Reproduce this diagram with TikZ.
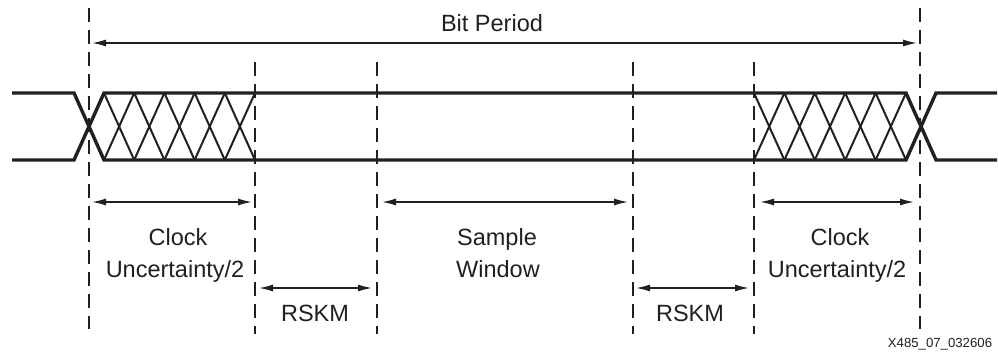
\documentclass[tikz,border=0pt]{standalone}
\usepackage{fontspec}
\setmainfont{Liberation Sans}
\usetikzlibrary{arrows.meta}
\definecolor{ink}{HTML}{231F20}
\tikzset{
  sig/.style={draw=ink, line width=3.4pt, line join=miter},
  hatch/.style={draw=ink, line width=2pt},
  guide/.style={draw=ink, line width=1.4pt, dash pattern=on 14pt off 8pt},
  dim/.style={draw=ink, line width=1.5pt, {Latex[length=14pt,width=7pt]}-{Latex[length=14pt,width=7pt]}},
  lbl/.style={text=ink, font=\fontsize{23.5}{28}\selectfont, anchor=base, inner sep=0pt},
  tag/.style={text=ink, font=\fontsize{13.2}{16}\selectfont, anchor=base, inner sep=0pt}
}
\begin{document}
\begin{tikzpicture}[x=1pt,y=-1pt]
\useasboundingbox (0,0) rectangle (998,356);
% signal
\def\yt{93}\def\yb{160}
\draw[sig] (12,\yt) -- (74,\yt) -- (104,\yb) -- (906,\yb) -- (936,\yt) -- (997,\yt);
\draw[sig] (12,\yb) -- (74,\yb) -- (104,\yt) -- (906,\yt) -- (936,\yb) -- (997,\yb);
% hatch left
\foreach \a in {0,...,4}{
  \pgfmathsetmacro{\xa}{104+30.2*\a}
  \pgfmathsetmacro{\xb}{104+30.2*(\a+1)}
  \draw[hatch] (\xa,\yt) -- (\xb,\yb);
  \draw[hatch] (\xa,\yb) -- (\xb,\yt);
}
% hatch right
\foreach \a in {0,...,4}{
  \pgfmathsetmacro{\xa}{754+30.4*\a}
  \pgfmathsetmacro{\xb}{754+30.4*(\a+1)}
  \draw[hatch] (\xa,\yt) -- (\xb,\yb);
  \draw[hatch] (\xa,\yb) -- (\xb,\yt);
}
% guide lines
\coordinate (g1t) at (89,8);   \coordinate (g1b) at (89,329);
\coordinate (g2t) at (255,62); \coordinate (g2b) at (255,334);
\coordinate (g3t) at (377,62); \coordinate (g3b) at (377,334);
\coordinate (g4t) at (633,62); \coordinate (g4b) at (633,334);
\coordinate (g5t) at (754,62); \coordinate (g5b) at (754,334);
\coordinate (g6t) at (920,8);  \coordinate (g6b) at (920,329);
\foreach \g in {1,...,6}{\draw[guide] (g\g t) -- (g\g b);}
% dimension arrows
\coordinate (bpL) at (92,43);  \coordinate (bpR) at (917,43);
\coordinate (c1L) at (92,202); \coordinate (c1R) at (252,202);
\coordinate (swL) at (382,202);\coordinate (swR) at (628,202);
\coordinate (c2L) at (760,202);\coordinate (c2R) at (914,202);
\coordinate (r1L) at (259,288);\coordinate (r1R) at (372,288);
\coordinate (r2L) at (636,288);\coordinate (r2R) at (749,288);
\draw[dim] (bpL) -- (bpR);
\draw[dim] (c1L) -- (c1R);
\draw[dim] (swL) -- (swR);
\draw[dim] (c2L) -- (c2R);
\draw[dim] (r1L) -- (r1R);
\draw[dim] (r2L) -- (r2R);
% labels
\node[lbl] (bp) at (492,31.5) {Bit Period};
\node[lbl] (c1a) at (178,245.5) {Clock};
\node[lbl] (c1b) at (175,277.5) {Uncertainty/2};
\node[lbl] (swa) at (497,245.5) {Sample};
\node[lbl] (swb) at (498,277.5) {Window};
\node[lbl] (c2a) at (840,245.5) {Clock};
\node[lbl] (c2b) at (837,277.5) {Uncertainty/2};
\node[lbl] (r1) at (315,321.5) {RSKM};
\node[lbl] (r2) at (690,321.5) {RSKM};
\node[tag] (id) at (940,347.5) {X485\_07\_032606};
\end{tikzpicture}
\end{document}
